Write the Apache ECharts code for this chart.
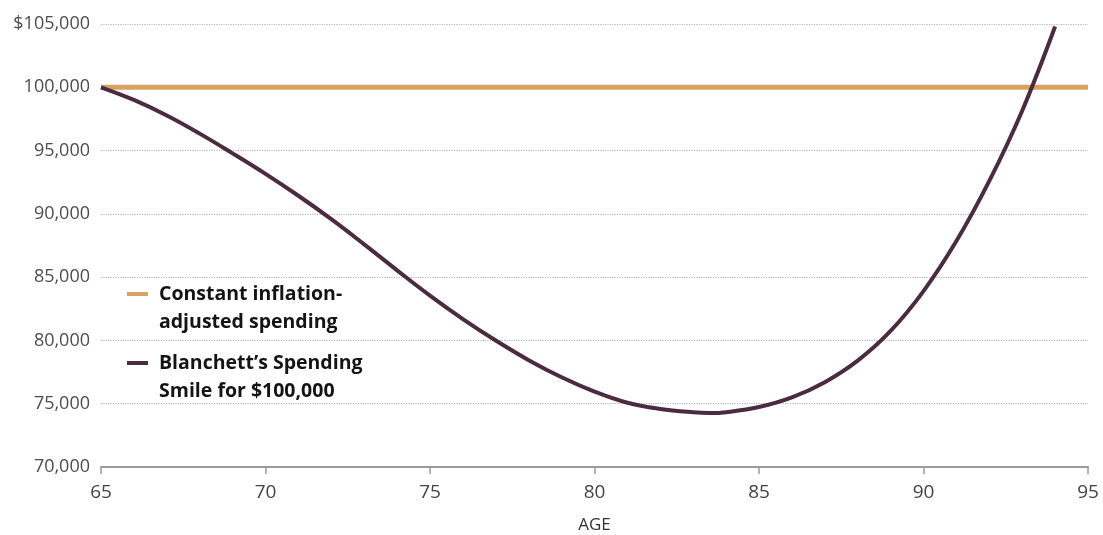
<!DOCTYPE html>
<html>
<head>
<meta charset="utf-8">
<script src="https://cdn.jsdelivr.net/npm/echarts@6/dist/echarts.min.js"></script>
<style>html,body{margin:0;padding:0;background:#fff}#c{width:1103px;height:535px}</style>
</head>
<body>
<div id="c"></div>
<script>
const ages = [65,66,67,68,69,70,71,72,73,74,75,76,77,78,79,80,81,82,83,83.5,84,85,86,87,88,89,90,91,92,93,94];
const smileValues = [100000,99000,97770,96340,94780,93160,91430,89580,87590,85540,83540,81690,79990,78440,77090,75960,75080,74590,74320,74260,74330,74740,75500,76700,78400,80750,83900,87850,92600,98150,104800];
const constantAges = [65,95];
const constantValues = [100000,100000];
const seriesNames = ['Constant inflation-\nadjusted spending', "Blanchett\u2019s Spending\nSmile for $100,000"];
const yTicks = [70000,75000,80000,85000,90000,95000,100000,105000];
const xTicks = [65,70,75,80,85,90,95];

const chart = echarts.init(document.getElementById('c'), null, {renderer:'canvas'});
chart.setOption({
  animation:false,
  backgroundColor:'#ffffff',
  grid:{left:101, right:15, top:24, bottom:68, containLabel:false, outerBoundsMode:'none'},
  legend:{
    orient:'vertical', left:122, top:247, itemGap:-15,
    icon:'rect', itemWidth:21, itemHeight:4,
    selectedMode:false,
    formatter:function(name){ return '\n' + name; },
    textStyle:{fontFamily:'Open Sans', fontWeight:'bold', fontSize:19.5, color:'#141414', lineHeight:28, padding:[0,0,0,6]},
    data:seriesNames
  },
  xAxis:{
    type:'value', min:xTicks[0], max:xTicks[xTicks.length-1], interval:5,
    name:'AGE', nameLocation:'middle', nameGap:50,
    nameTextStyle:{fontFamily:'Open Sans', fontSize:17, color:'#333'},
    axisLine:{show:true, lineStyle:{color:'#9a9a9a', width:2}},
    axisTick:{show:true, length:7, lineStyle:{color:'#9a9a9a', width:1.5}},
    axisLabel:{fontFamily:'Open Sans', fontSize:19, color:'#444', margin:16},
    splitLine:{show:false}
  },
  yAxis:{
    type:'value', min:yTicks[0], max:yTicks[yTicks.length-1], interval:5000,
    axisLine:{show:false}, axisTick:{show:false},
    axisLabel:{fontFamily:'Open Sans', fontSize:18, color:'#4d4d4d', margin:11,
      formatter:function(v){ const s = v.toLocaleString('en-US'); return v === yTicks[yTicks.length-1] ? '$'+s : s; }},
    splitLine:{show:true, lineStyle:{color:'#b5b5b5', type:'dotted', width:1.2}}
  },
  series:[
    {name:seriesNames[0], type:'line', symbol:'none', z:2,
     data:constantAges.map((a,i)=>[a,constantValues[i]]),
     lineStyle:{color:'#d9a35f', width:5}, itemStyle:{color:'#d9a35f'}},
    {name:seriesNames[1], type:'line', symbol:'none', smooth:0.4, z:3,
     data:ages.map((a,i)=>[a,smileValues[i]]),
     lineStyle:{color:'#4b2b40', width:4}, itemStyle:{color:'#4b2b40'}}
  ]
});
</script>
</body>
</html>
